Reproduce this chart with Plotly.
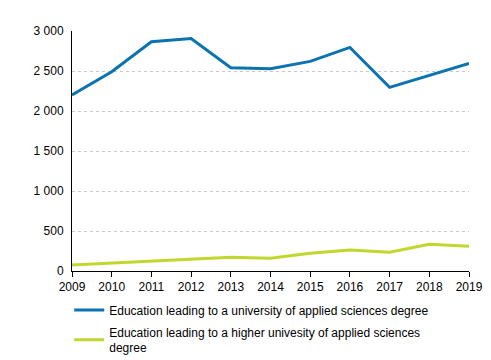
import plotly.graph_objects as go

years = [2009, 2010, 2011, 2012, 2013, 2014, 2015, 2016, 2017, 2018, 2019]
uas_degree = [2200, 2490, 2865, 2905, 2540, 2528, 2620, 2795, 2295, 2445, 2595]
higher_uas_degree = [75, 100, 128, 150, 172, 160, 222, 262, 235, 333, 308]

name1 = "Education leading to a university of applied sciences degree"
name2 = "Education leading to a higher univesity of applied sciences<br>degree"

fig = go.Figure()
fig.add_trace(go.Scatter(x=years, y=uas_degree, mode="lines", name=name1,
                         legendgroup="g1",
                         line=dict(color="#0a73b0", width=3)))
fig.add_trace(go.Scatter(x=years, y=higher_uas_degree, mode="lines", name=name2,
                         legendgroup="g2",
                         line=dict(color="#c2d72e", width=3)))

# page body has an 8px default margin, so the figure is sized to fit 491x360
fig.update_layout(
    width=483, height=352,
    margin=dict(l=64, r=22, t=23, b=89, autoexpand=False),
    paper_bgcolor="white", plot_bgcolor="white",
    font=dict(family="Liberation Sans, Arial, sans-serif", size=12, color="#000000"),
    separators=". ",
    showlegend=True,
    legend=dict(x=-0.007, xanchor="left", y=-0.1025, yanchor="top", orientation="v",
                font=dict(size=12), tracegroupgap=3, itemwidth=30,
                bgcolor="rgba(0,0,0,0)"),
)
fig.update_xaxes(range=[2009, 2019], tickvals=years, showgrid=False,
                 showline=True, linecolor="black", linewidth=1,
                 ticks="outside", ticklen=5, tickcolor="black", zeroline=False)
fig.update_yaxes(range=[0, 3000], tickvals=[0, 500, 1000, 1500, 2000, 2500, 3000],
                 tickformat=",d", showgrid=True, gridcolor="#c8c8c8", gridwidth=1,
                 griddash="dot", showline=True, linecolor="black", linewidth=1,
                 zeroline=False, ticks="", ticklabelstandoff=5)

fig.write_html("out.html")
